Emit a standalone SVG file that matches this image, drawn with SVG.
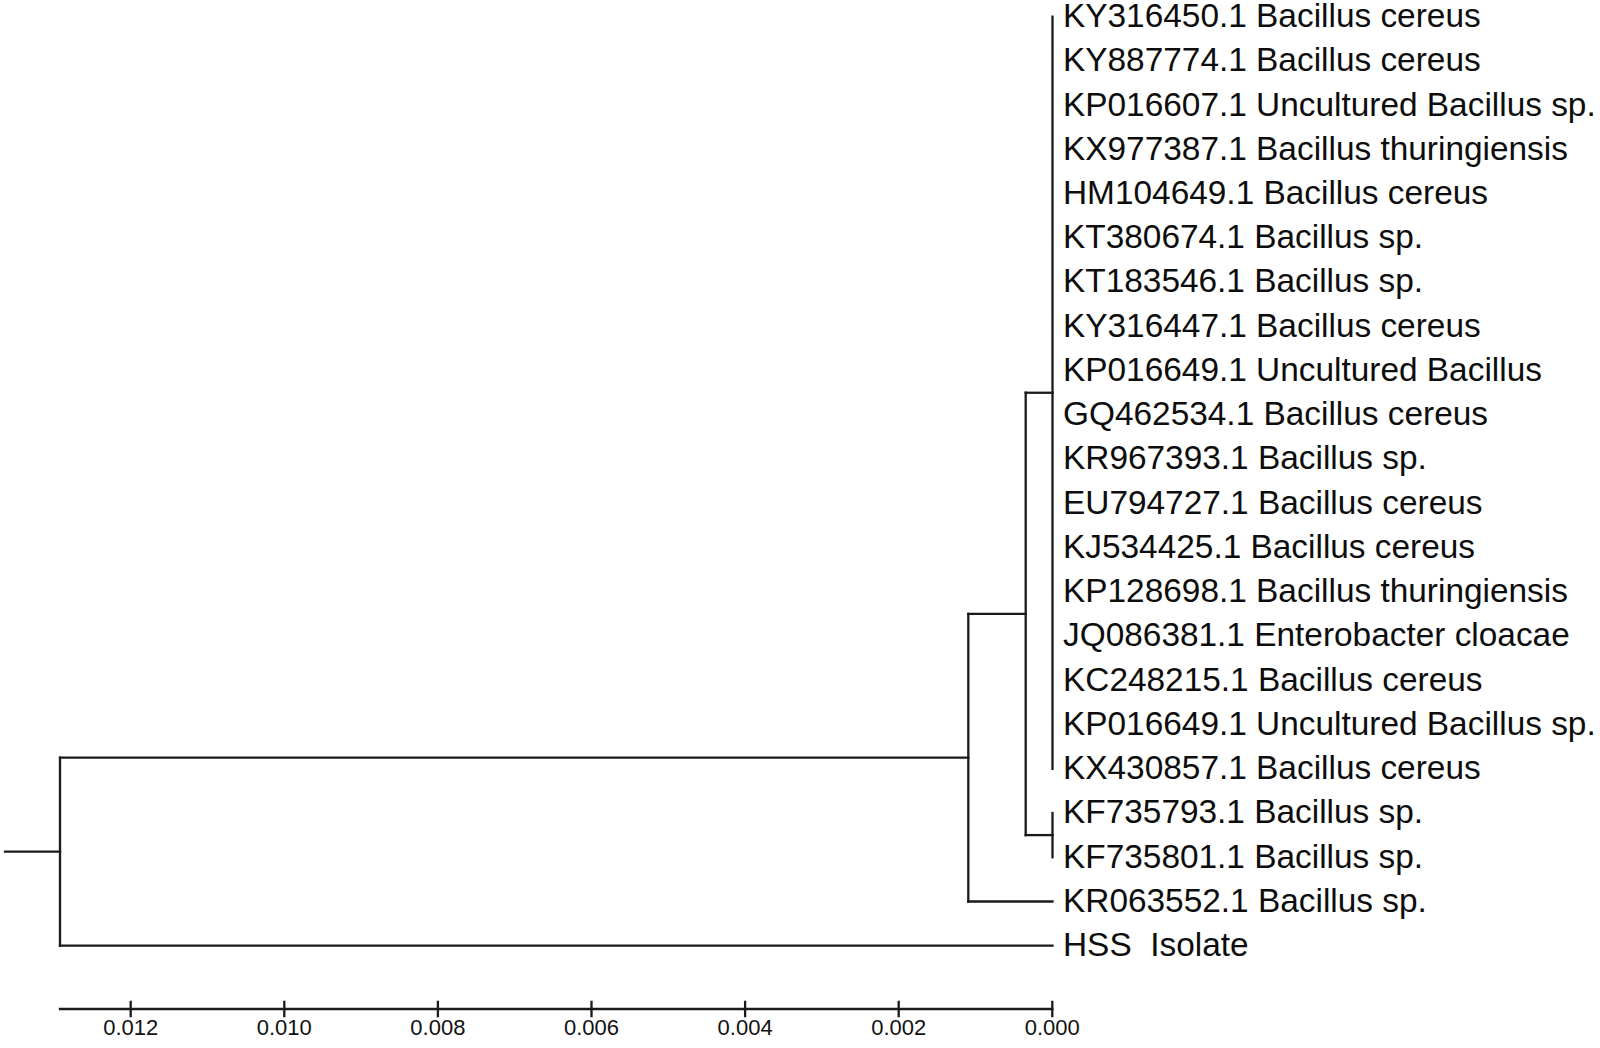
<svg xmlns="http://www.w3.org/2000/svg" width="1600" height="1048" viewBox="0 0 1600 1048">
<style>
.br{stroke:#1a1a1a;stroke-width:2.3;fill:none;stroke-linecap:square}
.lb{font-family:"Liberation Sans",Arial,sans-serif;font-size:33.4px;fill:#0d0d0d}
.ax{font-family:"Liberation Sans",Arial,sans-serif;font-size:22px;fill:#111;text-anchor:middle}
</style>
<rect width="1600" height="1048" fill="#fff"/>
<g id="connectors" class="br">
<path d="M1052.5 16.7V768.8"/>
<path d="M1025.7 392.75H1052.5"/>
<path d="M1052.5 813V857.3"/>
<path d="M1025.7 835.1H1052.5"/>
<path d="M1025.7 392.75V835.1"/>
<path d="M968.3 613.9H1025.7"/>
<path d="M968.3 613.9V901.5"/>
<path d="M968.3 901.5H1052.5"/>
<path d="M60 757.7H968.3"/>
<path d="M60 757.7V945.7"/>
<path d="M60 945.7H1052.5"/>
<path d="M5 851.7H60"/>
</g>
<g id="leaves" class="lb">
<g id="n1"><text x="1063" y="27">KY316450.1 Bacillus cereus</text></g>
<g id="n2"><text x="1063" y="71.2">KY887774.1 Bacillus cereus</text></g>
<g id="n3"><text x="1063" y="115.5">KP016607.1 Uncultured Bacillus sp.</text></g>
<g id="n4"><text x="1063" y="159.7">KX977387.1 Bacillus thuringiensis</text></g>
<g id="n5"><text x="1063" y="204">HM104649.1 Bacillus cereus</text></g>
<g id="n6"><text x="1063" y="248.2">KT380674.1 Bacillus sp.</text></g>
<g id="n7"><text x="1063" y="292.4">KT183546.1 Bacillus sp.</text></g>
<g id="n8"><text x="1063" y="336.7">KY316447.1 Bacillus cereus</text></g>
<g id="n9"><text x="1063" y="380.9">KP016649.1 Uncultured Bacillus</text></g>
<g id="n10"><text x="1063" y="425.2">GQ462534.1 Bacillus cereus</text></g>
<g id="n11"><text x="1063" y="469.4">KR967393.1 Bacillus sp.</text></g>
<g id="n12"><text x="1063" y="513.6">EU794727.1 Bacillus cereus</text></g>
<g id="n13"><text x="1063" y="557.9">KJ534425.1 Bacillus cereus</text></g>
<g id="n14"><text x="1063" y="602.1">KP128698.1 Bacillus thuringiensis</text></g>
<g id="n15"><text x="1063" y="646.4">JQ086381.1 Enterobacter cloacae</text></g>
<g id="n16"><text x="1063" y="690.6">KC248215.1 Bacillus cereus</text></g>
<g id="n17"><text x="1063" y="734.8">KP016649.1 Uncultured Bacillus sp.</text></g>
<g id="n18"><text x="1063" y="779.1">KX430857.1 Bacillus cereus</text></g>
<g id="n19"><text x="1063" y="823.3">KF735793.1 Bacillus sp.</text></g>
<g id="n20"><text x="1063" y="867.6">KF735801.1 Bacillus sp.</text></g>
<g id="n21"><text x="1063" y="911.8">KR063552.1 Bacillus sp.</text></g>
<g id="n22"><text x="1063" y="956" xml:space="preserve">HSS  Isolate</text></g>
</g>
<g id="scale">
<g class="br">
<path d="M60 1009H1052.3"/>
<path d="M130.7 1002V1016M284.3 1002V1016M437.9 1002V1016M591.5 1002V1016M745.1 1002V1016M898.7 1002V1016M1052.3 1002V1016"/>
</g>
<g class="ax">
<text x="130.7" y="1034.5">0.012</text>
<text x="284.3" y="1034.5">0.010</text>
<text x="437.9" y="1034.5">0.008</text>
<text x="591.5" y="1034.5">0.006</text>
<text x="745.1" y="1034.5">0.004</text>
<text x="898.7" y="1034.5">0.002</text>
<text x="1052.3" y="1034.5">0.000</text>
</g>
</g>
</svg>
